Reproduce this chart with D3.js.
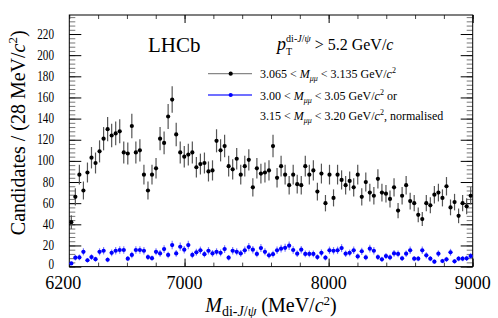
<!DOCTYPE html>
<html><head><meta charset="utf-8">
<script src="https://cdn.jsdelivr.net/npm/d3@7"></script>
<style>
body{margin:0;background:#fff;}
svg, svg text{font-family:"Liberation Serif","DejaVu Serif",serif;}
svg{display:block;}
</style>
</head><body>
<svg id="c" width="498" height="318"></svg>
<script>
// ---- data ----
const xDomain = [6200, 9000];
const binWidth = 28;
const signal = [42,66,87,72,89,103,98,109,121,130,124,126,128,108,107,133,108,110,87,72,
  87,93,121,117,142,158,125,108,104,106,108,94,97,98,90,91,119,110,114,95,
  92,102,87,95,101,75,93,88,89,91,114,84,95,87,77,87,78,77,95,87,
  91,71,88,60,87,65,87,82,77,81,75,87,66,80,70,67,83,70,69,64,
  75,53,67,77,62,60,49,45,60,58,68,70,65,76,56,61,48,60,57,67];
const sideband = [3,8.4,8.7,14,6,9,7,14,15,6.5,13,15,15.7,15.7,7.5,11,15.7,15.7,15,9,
  8,14,12.5,16.6,11,20.4,12.5,18.8,16,20.4,11,13.5,15.4,11.8,15,12.5,14,13,16.6,8.4,
  15,14,12.5,15.4,18.5,16,12,17.5,14,10.7,11.8,15.4,17,17.8,19.8,15.7,12.2,16,12,12,
  12,9,13,8.4,15.4,15,15.4,17.5,12.2,13,15.4,9.6,14.5,8.7,17,15,9,6.9,10,8.7,
  12.5,12,7.8,12.2,15.4,7.5,7.5,15.4,10.7,7.5,4.7,12.2,5.3,6.9,13.5,5,7.5,7.5,7.8,10];
const xTicksMajor = [7000, 8000, 9000];
const xTickLabels = [6200, 7000, 8000, 9000];
const yTickLabels = [0,20,40,60,80,100,120,140,160,180,200,220];
const yMax = 238;

// ---- layout ----
const L = 69.3, R = 472.7, T = 15, B = 266.6;
const FONT = "'Liberation Serif','DejaVu Serif',serif";
const svg = d3.select("#c").attr("font-family", FONT);
const x = d3.scaleLinear().domain(xDomain).range([L, R]);
const y = d3.scaleLinear().domain([0, yMax]).range([B, T]);
const centre = i => xDomain[0] + (i + 0.5) * binWidth;

function styleAxis(g, col) {
  g.select(".domain").remove();
  g.selectAll(".tick line").attr("stroke", col || "#000").attr("stroke-width", 1);
  g.selectAll(".tick text").remove();
}
const xMinor = d3.range(6200, 9001, 200);
const yMinor = d3.range(0, yMax, 4);
const yMajor = d3.range(0, yMax, 20);

svg.append("g").attr("transform", `translate(0,${B})`)
  .call(d3.axisBottom(x).tickValues(xMinor).tickSize(-4)).call(g => styleAxis(g, "#444"));
svg.append("g").attr("transform", `translate(0,${B})`)
  .call(d3.axisBottom(x).tickValues(xTicksMajor).tickSize(-8)).call(g => styleAxis(g));
svg.append("g").attr("transform", `translate(0,${T})`)
  .call(d3.axisTop(x).tickValues(xMinor).tickSize(-4)).call(g => styleAxis(g, "#444"));
svg.append("g").attr("transform", `translate(0,${T})`)
  .call(d3.axisTop(x).tickValues(xTicksMajor).tickSize(-8)).call(g => styleAxis(g));
svg.append("g").attr("transform", `translate(${L},0)`)
  .call(d3.axisLeft(y).tickValues(yMinor).tickSize(-6)).call(g => styleAxis(g, "#777"));
svg.append("g").attr("transform", `translate(${L},0)`)
  .call(d3.axisLeft(y).tickValues(yMajor).tickSize(-12)).call(g => styleAxis(g));
svg.append("g").attr("transform", `translate(${R},0)`)
  .call(d3.axisRight(y).tickValues(yMinor).tickSize(-6)).call(g => styleAxis(g, "#777"));
svg.append("g").attr("transform", `translate(${R},0)`)
  .call(d3.axisRight(y).tickValues(yMajor).tickSize(-12)).call(g => styleAxis(g));

svg.append("rect").attr("x", L).attr("y", T).attr("width", R - L).attr("height", B - T)
  .attr("fill", "none").attr("stroke", "#000").attr("stroke-width", 1);

// tick labels
svg.append("g").selectAll("text").data(xTickLabels).join("text")
  .attr("x", d => d === 6200 ? x(d) - 6 : x(d)).attr("y", 289)
  .attr("text-anchor", "middle").attr("font-size", 18).attr("font-family", FONT).text(d => d);
svg.append("g").selectAll("text").data(yTickLabels).join("text")
  .attr("transform", d => `translate(54,${y(d) + (d === 0 ? 2.5 : 4.5)}) scale(0.8,1)`)
  .attr("text-anchor", "end").attr("font-size", 14).attr("font-family", FONT).text(d => d);

// axis titles
const yt = svg.append("text").attr("transform", `translate(25,${(T + B) / 2 - 8}) rotate(-90)`)
  .attr("text-anchor", "middle").attr("font-size", 20).attr("font-family", FONT);
yt.append("tspan").text("Candidates / (28 MeV/");
yt.append("tspan").attr("font-style", "italic").text("c");
yt.append("tspan").attr("font-size", 13).attr("dy", -8).text("2");
yt.append("tspan").attr("dy", 8).text(")");

const xt = svg.append("text").attr("x", (L + R) / 2).attr("y", 312).attr("text-anchor", "middle")
  .attr("font-size", 20).attr("font-family", FONT);
xt.append("tspan").attr("font-style", "italic").text("M");
xt.append("tspan").attr("font-size", 14).attr("dy", 4).text("di-");
xt.append("tspan").attr("font-size", 14).attr("font-style", "italic").text("J");
xt.append("tspan").attr("font-size", 14).text("/");
xt.append("tspan").attr("font-size", 14).attr("font-style", "italic").text("ψ");
xt.append("tspan").attr("dy", -4).text(" (MeV/");
xt.append("tspan").attr("font-style", "italic").text("c");
xt.append("tspan").attr("font-size", 13).attr("dy", -7).text("2");
xt.append("tspan").attr("dy", 7).text(")");

// data: sideband (blue)
const gb = svg.append("g");
sideband.forEach((v, i) => {
  const e = Math.sqrt(v) * 0.9;
  gb.append("line").attr("x1", x(centre(i))).attr("x2", x(centre(i)))
    .attr("y1", y(v - e)).attr("y2", y(v + e)).attr("stroke", "#7f7fff").attr("stroke-width", 1.2);
  gb.append("line").attr("x1", x(centre(i) - binWidth / 2)).attr("x2", x(centre(i) + binWidth / 2))
    .attr("y1", y(v)).attr("y2", y(v)).attr("stroke", "#7f7fff").attr("stroke-width", 1);
  gb.append("circle").attr("cx", x(centre(i))).attr("cy", y(v)).attr("r", 2.1).attr("fill", "#0000ff");
});

// data: signal (black)
const gs = svg.append("g");
signal.forEach((v, i) => {
  const e = Math.sqrt(v);
  gs.append("line").attr("x1", x(centre(i))).attr("x2", x(centre(i)))
    .attr("y1", y(v - e)).attr("y2", y(v + e)).attr("stroke", "#555").attr("stroke-width", 1.2);
  gs.append("circle").attr("cx", x(centre(i))).attr("cy", y(v)).attr("r", 2.1).attr("fill", "#000");
});

// labels
svg.append("text").attr("x", 148).attr("y", 52).attr("font-size", 21).attr("font-family", FONT).text("LHCb");
const pt = svg.append("text").attr("x", 277).attr("y", 50).attr("font-size", 16).attr("font-family", FONT);
pt.append("tspan").attr("font-style", "italic").attr("font-size", 18).text("p");
pt.append("tspan").attr("font-size", 10).attr("dy", 5).text("T");
pt.append("tspan").attr("font-size", 10).attr("dx", -6).attr("dy", -13).text("di-");
pt.append("tspan").attr("font-size", 10).attr("font-style", "italic").text("J");
pt.append("tspan").attr("font-size", 10).text("/");
pt.append("tspan").attr("font-size", 10).attr("font-style", "italic").text("ψ");
pt.append("tspan").attr("dy", 8).text(" > 5.2 GeV/");
pt.append("tspan").attr("font-style", "italic").text("c");

// legend
function legText(yb, parts) {
  const t = svg.append("text").attr("x", 260).attr("y", yb).attr("font-size", 12).attr("font-family", FONT);
  parts.forEach(p => {
    const s = t.append("tspan").text(p.t);
    if (p.i) s.attr("font-style", "italic");
    if (p.fs) s.attr("font-size", p.fs);
    if (p.dy) s.attr("dy", p.dy);
  });
}
const mm = [{t:" < "},{t:"M",i:1},{t:"μμ",i:1,fs:8,dy:3},{t:" < ",dy:-3}];
svg.append("line").attr("x1", 208).attr("x2", 252).attr("y1", 73.7).attr("y2", 73.7).attr("stroke", "#888").attr("stroke-width", 1.3);
svg.append("circle").attr("cx", 230.7).attr("cy", 73.7).attr("r", 2.1).attr("fill", "#000");
legText(78, [{t:"3.065"}, ...mm, {t:"3.135 GeV/"},{t:"c",i:1},{t:"2",fs:8,dy:-5}]);
svg.append("line").attr("x1", 208).attr("x2", 252).attr("y1", 95).attr("y2", 95).attr("stroke", "#4040ff").attr("stroke-width", 1.3);
svg.append("circle").attr("cx", 230.7).attr("cy", 95).attr("r", 2.1).attr("fill", "#0000ff");
legText(100, [{t:"3.00"}, ...mm, {t:"3.05 GeV/"},{t:"c",i:1},{t:"2",fs:8,dy:-5},{t:" or",dy:5}]);
legText(120, [{t:"3.15"}, ...mm, {t:"3.20 GeV/"},{t:"c",i:1},{t:"2",fs:8,dy:-5},{t:", normalised",dy:5}]);
</script>
</body></html>
